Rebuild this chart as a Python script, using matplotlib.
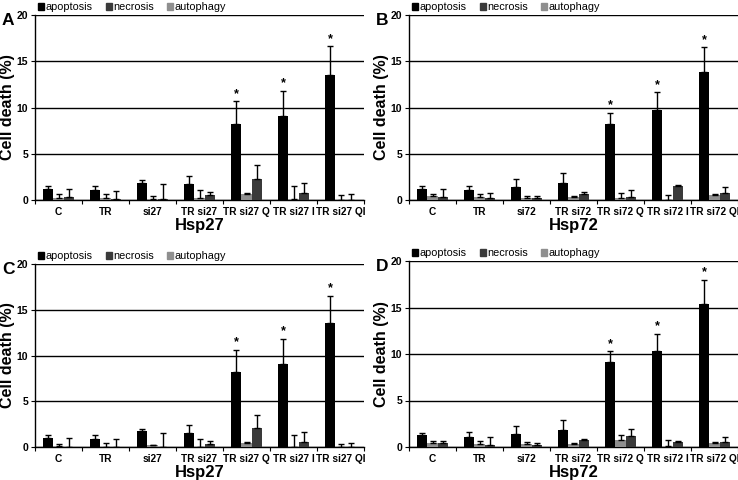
import numpy as np
import matplotlib
matplotlib.use("Agg")
import matplotlib.pyplot as plt
from matplotlib.patches import Patch

plt.rcParams['font.family'] = ['Liberation Sans', 'DejaVu Sans']

groups27 = ['C', 'TR', 'si27', 'TR si27', 'TR si27 Q', 'TR si27 I', 'TR si27 QI']
groups72 = ['C', 'TR', 'si72', 'TR si72', 'TR si72 Q', 'TR si72 I', 'TR si72 QI']

# panel A (Hsp27)
a_apo = [1.19, 1.05, 1.87, 1.73, 8.2, 9.05, 13.5]
a_apo_err = [0.32, 0.46, 0.29, 0.87, 2.45, 2.75, 3.1]
a_aut = [0.25, 0.18, 0.1, 0.25, 0.68, 0.1, 0.02]
a_aut_err = [0.35, 0.42, 0.37, 0.8, 0.12, 1.4, 0.53]
a_nec = [0.3, 0.15, 0.15, 0.5, 2.23, 0.8, 0.02]
a_nec_err = [0.85, 0.85, 1.55, 0.36, 1.52, 1.0, 0.63]

# panel B (Hsp72)
b_apo = [1.19, 1.08, 1.37, 1.87, 8.2, 9.73, 13.85]
b_apo_err = [0.31, 0.42, 0.9, 1.01, 1.25, 1.92, 2.65]
b_aut = [0.43, 0.3, 0.25, 0.3, 0.18, 0.03, 0.55]
b_aut_err = [0.17, 0.35, 0.22, 0.1, 0.62, 0.52, 0.13]
b_nec = [0.3, 0.2, 0.18, 0.68, 0.35, 1.48, 0.8]
b_nec_err = [0.85, 0.55, 0.22, 0.15, 0.75, 0.12, 0.57]

# panel C (Hsp27)
c_apo = [0.98, 0.87, 1.71, 1.53, 8.2, 9.05, 13.5]
c_apo_err = [0.29, 0.44, 0.26, 0.87, 2.45, 2.75, 3.05]
c_aut = [0.07, 0.05, 0.2, 0.0, 0.44, 0.0, 0.0]
c_aut_err = [0.26, 0.35, 0.05, 0.87, 0.11, 1.35, 0.3]
c_nec = [0.0, 0.0, 0.0, 0.3, 2.08, 0.58, 0.0]
c_nec_err = [0.98, 0.84, 1.53, 0.4, 1.45, 1.06, 0.4]

# panel D (Hsp72)
d_apo = [1.25, 1.1, 1.43, 1.86, 9.1, 10.3, 15.35]
d_apo_err = [0.29, 0.48, 0.87, 1.04, 1.2, 1.9, 2.6]
d_aut = [0.4, 0.32, 0.3, 0.32, 0.72, 0.07, 0.4]
d_aut_err = [0.25, 0.28, 0.25, 0.11, 0.53, 0.65, 0.15]
d_nec = [0.4, 0.2, 0.18, 0.72, 1.15, 0.57, 0.5]
d_nec_err = [0.25, 0.87, 0.25, 0.18, 0.78, 0.08, 0.6]

starred = [4, 5, 6]

panels = [
    ('A', groups27, 'Hsp27', a_apo, a_apo_err, a_aut, a_aut_err, a_nec, a_nec_err),
    ('B', groups72, 'Hsp72', b_apo, b_apo_err, b_aut, b_aut_err, b_nec, b_nec_err),
    ('C', groups27, 'Hsp27', c_apo, c_apo_err, c_aut, c_aut_err, c_nec, c_nec_err),
    ('D', groups72, 'Hsp72', d_apo, d_apo_err, d_aut, d_aut_err, d_nec, d_nec_err),
]

positions = [
    [35/738, 1-200/480, 329/738, 185/480],
    [409/738, 1-200/480, 329/738, 185/480],
    [35/738, 1-447/480, 329/738, 183/480],
    [409/738, 1-447/480, 329/738, 186/480],
]

col_apo, col_nec, col_aut = '#000000', '#3a3a3a', '#8f8f8f'

fig = plt.figure(figsize=(7.38, 4.8), dpi=100)
w = 0.22
for pos, (letter, cats, xlab, apo, apo_e, aut, aut_e, nec, nec_e) in zip(positions, panels):
    ax = fig.add_axes(pos)
    x = np.arange(len(cats))
    ekw = dict(elinewidth=1.0, capsize=2, capthick=1.0, ecolor='black')
    ax.bar(x - w, apo, w, color=col_apo, yerr=[np.zeros(7), apo_e], error_kw=ekw, zorder=3)
    ax.bar(x, aut, w, color=col_aut, yerr=[np.zeros(7), aut_e], error_kw=ekw, zorder=3)
    ax.bar(x + w, nec, w, color=col_nec, yerr=[np.zeros(7), nec_e], error_kw=ekw, zorder=3)
    for i in starred:
        ax.text(i - w, apo[i] + apo_e[i] + 0.15, '*', ha='center', va='bottom',
                fontsize=9, fontweight='bold')
    ax.set_xlim(-0.5, 6.5)
    ax.set_ylim(0, 20)
    ax.set_yticks([0, 5, 10, 15, 20])
    ax.yaxis.grid(True, color='black', linewidth=1.0, zorder=0)
    ax.set_axisbelow(True)
    for s in ['top', 'right']:
        ax.spines[s].set_visible(False)
    ax.spines['left'].set_linewidth(1.0)
    ax.spines['bottom'].set_linewidth(1.0)
    ax.set_xticks(np.arange(-0.5, 7, 1))
    ax.set_xticklabels([])
    ax.set_xticks(x, minor=True)
    ax.set_xticklabels(cats, minor=True, fontsize=7.3, fontweight='bold')
    ax.tick_params(axis='x', which='minor', length=0, pad=5)
    ax.tick_params(axis='x', which='major', length=3, direction='out')
    ax.tick_params(axis='y', length=3, direction='out', labelsize=7.5, pad=2)
    for t in ax.get_yticklabels():
        t.set_fontweight('bold')
    ax.set_xlabel(xlab, fontsize=12, fontweight='bold', labelpad=1)
    ax.set_ylabel('Cell death (%)', fontsize=11.5, fontweight='bold', labelpad=1)
    handles = [Patch(color=col_apo), Patch(color=col_nec), Patch(color=col_aut)]
    ax.legend(handles, ['apoptosis', 'necrosis', 'autophagy'], ncol=3, loc='lower left',
              bbox_to_anchor=(0.01, 1.015), frameon=False, fontsize=7.8, handlelength=0.55,
              handleheight=0.55, handletextpad=0.15, columnspacing=1.2, borderpad=0,
              borderaxespad=0)
    fig.text(pos[0] - 33/738, pos[1] + pos[3] + 2/480, letter, fontsize=12.5,
             fontweight='bold', ha='left', va='top')

fig.savefig('out.png', dpi=100)
